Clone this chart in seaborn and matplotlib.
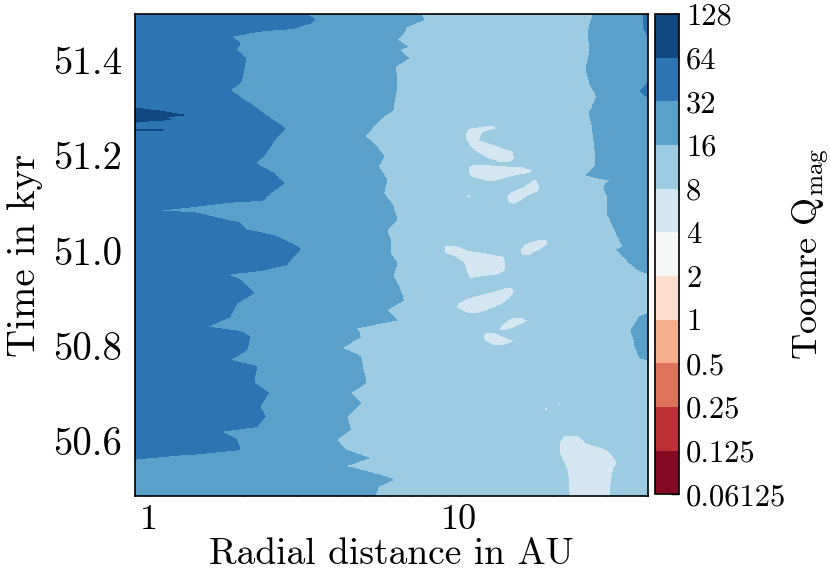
import numpy as np
import matplotlib
matplotlib.use("Agg")
import matplotlib.pyplot as plt
from matplotlib.ticker import NullFormatter
import seaborn as sns

# colour levels of the Toomre parameter (labels on the colour bar)
q_labels = ["0.06125", "0.125", "0.25", "0.5", "1", "2", "4", "8", "16", "32", "64", "128"]
time_ticks = [50.6, 50.8, 51.0, 51.2, 51.4]
radius_ticks = [1, 10]

# boundaries: (time in kyr, radius in AU)
# Q = 64 edge (small spike near the inner boundary)
edge_64 = [(51.50, 0.8), (51.301, 0.8), (51.298, 0.95), (51.292, 1.11), (51.285, 1.29),
           (51.281, 1.12), (51.276, 1.17), (51.273, 1.03), (51.269, 0.88), (51.266, 0.8),
           (51.256, 0.8), (51.254, 1.11), (51.252, 0.8), (50.48, 0.8)]

# Q = 32 edge (inner dark band)
edge_32 = [(51.50, 3.14), (51.485, 3.42), (51.478, 3.30), (51.467, 2.91), (51.460, 2.22),
           (51.450, 1.84), (51.436, 1.96), (51.422, 1.91), (51.404, 2.04), (51.373, 2.01),
           (51.352, 1.96), (51.338, 1.82), (51.327, 1.91), (51.303, 2.17), (51.278, 2.45),
           (51.257, 2.74), (51.240, 2.58), (51.219, 2.45), (51.198, 2.33), (51.184, 2.19),
           (51.163, 2.51), (51.142, 2.71), (51.121, 2.45), (51.107, 2.33), (51.101, 1.78),
           (51.092, 1.35), (51.084, 1.04), (51.079, 1.42), (51.069, 1.65), (51.058, 1.96),
           (51.044, 2.06), (51.030, 2.58), (51.009, 2.99), (51.002, 3.06), (50.988, 2.91),
           (50.971, 2.77), (50.960, 2.33), (50.950, 1.78), (50.939, 1.96), (50.911, 2.17),
           (50.890, 1.91), (50.862, 1.82), (50.840, 1.53), (50.831, 1.96), (50.820, 2.11),
           (50.792, 2.06), (50.771, 1.82), (50.757, 2.22), (50.723, 2.17), (50.702, 2.42),
           (50.673, 2.27), (50.652, 2.36), (50.631, 2.22), (50.621, 1.69), (50.604, 1.91),
           (50.583, 1.96), (50.574, 1.42), (50.567, 1.06), (50.563, 0.91), (50.558, 0.8),
           (50.48, 0.8)]

# Q = 16 edge, inner side
edge_16_in = [(51.50, 7.47), (51.485, 7.66), (51.470, 6.76), (51.457, 6.6), (51.443, 6.28),
              (51.429, 6.8), (51.422, 6.4), (51.404, 6.84), (51.387, 6.2), (51.352, 6.28),
              (51.324, 6.2), (51.296, 6.12), (51.282, 5.69), (51.261, 5.28), (51.240, 4.96),
              (51.219, 5.41), (51.198, 5.69), (51.177, 5.48), (51.149, 5.83), (51.121, 5.69),
              (51.093, 6.12), (51.065, 6.28), (51.044, 5.83), (51.023, 5.97), (50.995, 5.97),
              (50.974, 6.28), (50.946, 6.12), (50.918, 6.43), (50.897, 6.6), (50.876, 5.83),
              (50.855, 6.28), (50.838, 4.67), (50.820, 4.8), (50.796, 4.17), (50.778, 4.8),
              (50.750, 4.9), (50.723, 5.0), (50.702, 4.44), (50.681, 4.8), (50.652, 4.35),
              (50.625, 4.44), (50.604, 4.02), (50.583, 4.26), (50.565, 5.09), (50.548, 4.26),
              (50.534, 5.2), (50.520, 6.12), (50.506, 5.48), (50.48, 5.3)]

# Q = 16 edge, outer side
edge_16_out = [(51.50, 27.05), (51.470, 26.3), (51.457, 26.0), (51.422, 26.3), (51.380, 25.7),
               (51.352, 26.3), (51.324, 27.8), (51.289, 26.3), (51.247, 27.05), (51.205, 27.4),
               (51.177, 27.4), (51.159, 25.7), (51.152, 28.4), (51.149, 30.6), (51.135, 29.2),
               (51.114, 30.0), (51.079, 30.0), (51.051, 31.4), (51.009, 33.7), (51.002, 32.3),
               (50.974, 35.5), (50.960, 37.8), (50.950, 41.0), (50.946, 50.0), (50.872, 50.0),
               (50.869, 41.0), (50.862, 38.2), (50.834, 35.9), (50.799, 37.0), (50.775, 38.2),
               (50.771, 41.0), (50.767, 50.0), (50.48, 50.0)]

# Q = 32 edge, outer side (thin strip at the top right)
edge_32_out = [(51.50, 39.0), (51.470, 39.3), (51.452, 40.3), (51.448, 50.0), (51.360, 50.0),
               (51.352, 40.5), (51.335, 38.4), (51.322, 40.5), (51.316, 50.0), (50.48, 50.0)]

# islands with 4 < Q < 8: rows of (time, inner radius, outer radius)
island_1 = [(51.262, 12.1, 13.0), (51.257, 10.67, 13.2), (51.247, 10.5, 11.9), (51.233, 10.5, 11.6),
            (51.219, 10.8, 13.5), (51.208, 11.3, 14.95), (51.194, 12.3, 15.1), (51.185, 13.5, 14.6)]
island_2 = [(51.181, 11.0, 12.0), (51.176, 10.67, 16.0), (51.170, 10.67, 17.3), (51.163, 10.67, 17.0),
            (51.155, 10.9, 14.6), (51.147, 12.0, 13.2)]
island_3 = [(51.150, 17.3, 17.7), (51.135, 16.1, 18.2), (51.124, 14.6, 17.96), (51.114, 14.2, 16.5),
            (51.103, 14.3, 15.7), (51.098, 14.8, 15.1)]
island_4 = [(51.023, 17.7, 19.1), (51.013, 16.1, 19.3), (51.002, 15.7, 18.2), (50.990, 15.9, 16.8)]
island_5 = [(51.011, 9.0, 9.8), (51.002, 8.9, 10.6), (50.994, 9.0, 12.5), (50.988, 9.6, 14.0),
            (50.975, 10.3, 14.1), (50.960, 10.5, 14.1), (50.950, 10.6, 13.5), (50.943, 10.8, 11.2),
            (50.940, 10.9, 11.0)]
island_6 = [(50.923, 14.0, 14.8), (50.915, 12.9, 15.1), (50.901, 10.6, 14.6), (50.890, 9.9, 13.9),
            (50.880, 9.8, 12.9), (50.869, 10.6, 11.6)]
island_7 = [(50.860, 14.8, 15.9), (50.853, 14.2, 16.7), (50.843, 13.6, 15.6), (50.833, 13.4, 14.2)]
island_8 = [(50.828, 12.1, 13.0), (50.820, 11.9, 13.9), (50.810, 12.1, 15.1), (50.802, 12.8, 14.0)]
island_9 = [(50.612, 21.8, 24.0), (50.610, 21.5, 24.5), (50.597, 21.0, 25.7), (50.583, 21.0, 29.9),
            (50.569, 21.2, 31.4), (50.555, 21.7, 32.3), (50.541, 22.2, 31.4), (50.520, 22.4, 31.0),
            (50.48, 22.7, 30.6)]
island_10 = [(51.117, 10.6, 10.8), (51.114, 10.5, 11.0), (51.111, 10.6, 10.8)]
island_11 = [(50.671, 18.9, 19.2), (50.668, 18.8, 19.4), (50.665, 18.9, 19.2)]
island_12 = [(50.682, 20.8, 21.1), (50.679, 20.7, 21.3), (50.676, 20.8, 21.1)]
islands = [island_1, island_2, island_3, island_4, island_5, island_6,
           island_7, island_8, island_9, island_10, island_11, island_12]

# grid
tt = np.linspace(50.48, 51.50, 1021)
rr = np.logspace(np.log10(0.85), np.log10(42.0), 700)
R, T = np.meshgrid(rr, tt)


def trace(points, t):
    pts = np.array(sorted(points))
    return 10 ** np.interp(t, pts[:, 0], np.log10(pts[:, 1]))


# band index field: band k lies between q_labels[k] and q_labels[k+1]
Z = np.full(R.shape, 7.5)
Z[R < trace(edge_16_in, tt)[:, None]] = 8.5
Z[R < trace(edge_32, tt)[:, None]] = 9.5
Z[R < trace(edge_64, tt)[:, None]] = 10.5
Z[R > trace(edge_16_out, tt)[:, None]] = 8.5
Z[R > trace(edge_32_out, tt)[:, None]] = 9.5
for isl in islands:
    pts = np.array(sorted(isl))
    rows = (tt >= pts[0, 0]) & (tt <= pts[-1, 0])
    lo = 10 ** np.interp(tt[rows], pts[:, 0], np.log10(pts[:, 1]))
    hi = 10 ** np.interp(tt[rows], pts[:, 0], np.log10(pts[:, 2]))
    sub = Z[rows]
    sub[(R[rows] > lo[:, None]) & (R[rows] < hi[:, None])] = 6.5
    Z[rows] = sub

sns.set_theme(style="ticks")
plt.rcParams['font.family'] = 'serif'
plt.rcParams['font.serif'] = ['cmr10']
plt.rcParams['mathtext.fontset'] = 'cm'
plt.rcParams['axes.unicode_minus'] = False
plt.rcParams['axes.formatter.use_mathtext'] = True
for key in ['text.color', 'axes.labelcolor', 'xtick.color', 'ytick.color', 'axes.edgecolor']:
    plt.rcParams[key] = 'black'

cmap = sns.color_palette("RdBu", as_cmap=True)

fig = plt.figure(figsize=(8.31, 5.73), dpi=100)
ax = fig.add_axes([134.7 / 831, 77.3 / 573, 513 / 831, 481.7 / 573])
cax = fig.add_axes([655 / 831, 78.7 / 573, 24.3 / 831, 480.3 / 573])

levels = np.arange(len(q_labels))
cs = ax.contourf(rr, tt, Z, levels=levels, cmap=cmap)

ax.set_xscale('log')
ax.set_xlim(0.897, 40.5)
ax.set_ylim(50.486, 51.497)
ax.set_xticks(radius_ticks)
ax.set_xticklabels([str(v) for v in radius_ticks])
ax.xaxis.set_minor_formatter(NullFormatter())
ax.set_yticks(time_ticks)
ax.set_yticklabels([f"{v:.1f}" for v in time_ticks])
ax.tick_params(which='both', direction='in', top=True, right=True, colors='black',
               width=1.0)
ax.tick_params(axis='y', labelsize=28, pad=9)
ax.tick_params(axis='x', labelsize=26, pad=6)
ax.tick_params(which='major', length=7)
ax.tick_params(which='minor', length=4)
for sp in ax.spines.values():
    sp.set_linewidth(1.2)
    sp.set_color('black')

ax.set_xlabel("Radial distance in AU", fontsize=27)
ax.xaxis.set_label_coords(0.5, -(538 - 495.7) / 481.7)
ax.set_ylabel("Time in kyr", fontsize=28, labelpad=7)

cb = fig.colorbar(cs, cax=cax, ticks=levels)
cb.ax.set_yticklabels(q_labels)
cb.ax.tick_params(direction='in', length=6, width=1.0, labelsize=22, pad=5, colors='black')
cb.outline.set_linewidth(1.2)
cb.outline.set_edgecolor('black')
cb.set_label(r"Toomre $\mathrm{Q}_{\mathrm{mag}}$", fontsize=26)
cb.ax.yaxis.set_label_coords((791 - 655) / 24.3, 0.5)

fig.savefig("out.png", dpi=100)
